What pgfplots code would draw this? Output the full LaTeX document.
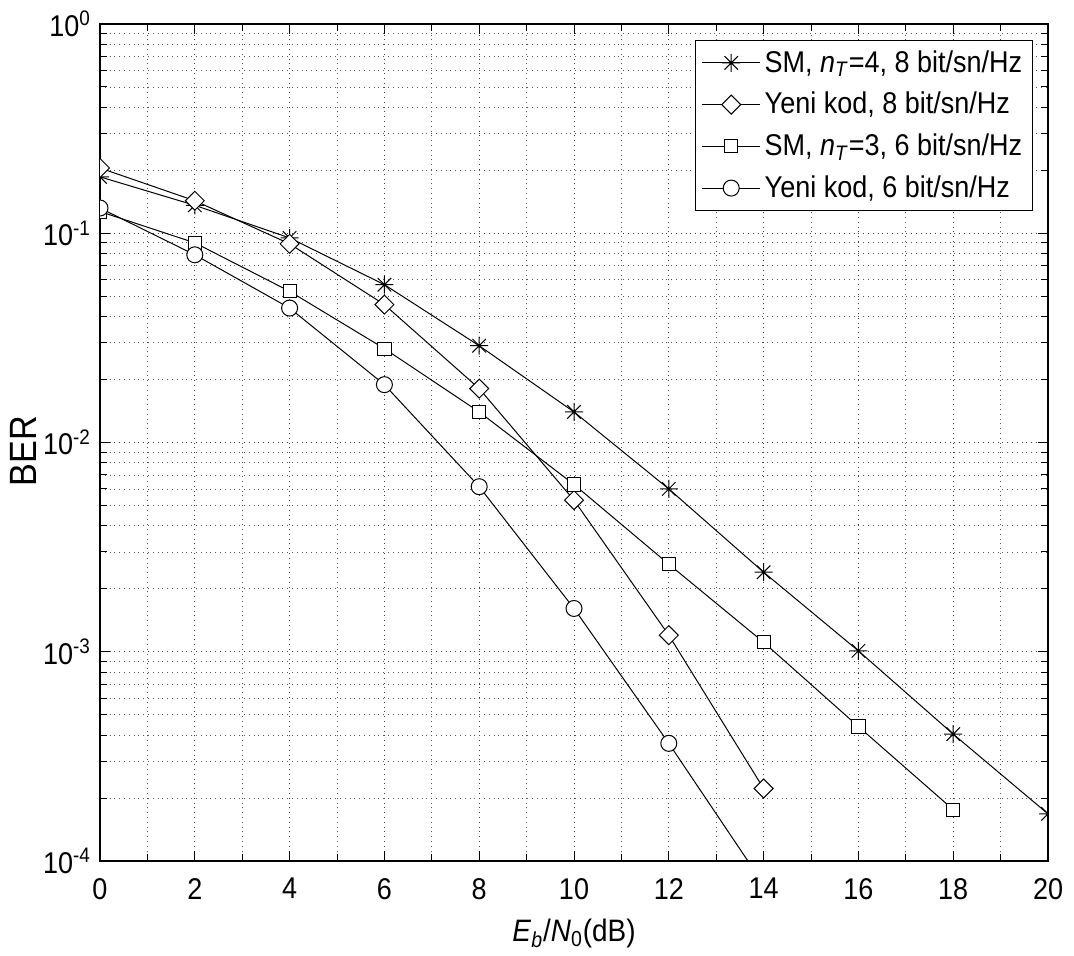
\documentclass[border=0pt]{standalone}
\usepackage{fontspec}
\setmainfont{Liberation Sans}[FakeStretch=0.9]
\usepackage{pgfplots}
\pgfplotsset{compat=1.18}
% MATLAB-like '*' marker: plus and cross together
\pgfdeclareplotmark{mstar}{%
  \pgfpathmoveto{\pgfqpoint{0pt}{\pgfplotmarksize}}\pgfpathlineto{\pgfqpoint{0pt}{-\pgfplotmarksize}}%
  \pgfpathmoveto{\pgfqpoint{\pgfplotmarksize}{0pt}}\pgfpathlineto{\pgfqpoint{-\pgfplotmarksize}{0pt}}%
  \pgfpathmoveto{\pgfqpoint{0.75\pgfplotmarksize}{0.75\pgfplotmarksize}}\pgfpathlineto{\pgfqpoint{-0.75\pgfplotmarksize}{-0.75\pgfplotmarksize}}%
  \pgfpathmoveto{\pgfqpoint{0.75\pgfplotmarksize}{-0.75\pgfplotmarksize}}\pgfpathlineto{\pgfqpoint{-0.75\pgfplotmarksize}{0.75\pgfplotmarksize}}%
  \pgfusepathqstroke}
\begin{document}
\begin{tikzpicture}
\begin{axis}[
  scale only axis, width=474pt, height=418.5pt,
  ymode=log, xmin=0, xmax=20, ymin=1e-4, ymax=1,
  xtick={0,2,...,20}, minor x tick num=1,
  ytick={1e-4,1e-3,1e-2,1e-1,1},
  yticklabels={10\textsuperscript{-4},10\textsuperscript{-3},10\textsuperscript{-2},10\textsuperscript{-1},10\textsuperscript{0}},
  /pgf/number format/assume math mode=true,
  tick label style={font=\fontsize{15}{18}\selectfont},
  xticklabel style={yshift=-5pt},
  yticklabel style={xshift=-1pt},
  tick align=inside, major tick length=5pt, minor tick length=3.5pt,
  every tick/.style={black, line width=0.5pt},
  axis line style={black, line width=0.6pt},
  grid=both,
  major grid style={dotted, black!75, line width=0.45pt},
  minor grid style={dotted, black!65, line width=0.4pt},
  xlabel={\textit{E}\textsubscript{\textit{b}}/\textit{N}\textsubscript{0}(dB)},
  ylabel={BER},
  xlabel style={yshift=-3pt, font=\fontsize{15.5}{18}\selectfont},
  ylabel style={at={(axis description cs:-0.0807,0.49)}, anchor=center, font=\fontsize{19}{22}\selectfont},
  clip marker paths=true,
  legend style={at={(0.984,0.981)}, anchor=north east, draw=black, line width=0.6pt,
    font=\fontsize{15}{18}\selectfont, row sep=4.5pt, inner xsep=3pt, inner ysep=3pt,
    cells={anchor=west}},
  legend image code/.code={\draw[mark repeat=2, mark phase=2] plot coordinates {(0pt,0pt) (14.5pt,0pt) (29pt,0pt)};},
  mystyle/.style={black, solid, line width=0.5pt, mark options={solid, draw=black, fill=white, line width=0.5pt}},
]
\addplot[mystyle, mark=mstar, mark size=4.5pt] coordinates {(0,0.186) (2,0.136) (4,0.095) (6,0.0568) (8,0.0290) (10,0.0140) (12,0.0060) (14,0.00240) (16,0.00101) (18,0.000404) (20,0.000168)};
\addlegendentry{SM, \textit{n}\textsubscript{\textit{T}}=4, 8 bit/sn/Hz}
\addplot[mystyle, mark=square*, mark size=3.35pt, mark options={solid, draw=black, fill=white, line width=0.5pt, rotate=45}] coordinates {(0,0.205) (2,0.143) (4,0.089) (6,0.0456) (8,0.0181) (10,0.0053) (12,0.0012) (14,0.000222)};
\addlegendentry{Yeni kod, 8 bit/sn/Hz}
\addplot[mystyle, mark=square*, mark size=3.3pt] coordinates {(0,0.127) (2,0.090) (4,0.0528) (6,0.0281) (8,0.0140) (10,0.0063) (12,0.00262) (14,0.00111) (16,0.000439) (18,0.000176)};
\addlegendentry{SM, \textit{n}\textsubscript{\textit{T}}=3, 6 bit/sn/Hz}
\addplot[mystyle, mark=*, mark size=4pt] coordinates {(0,0.132) (2,0.0789) (4,0.0439) (6,0.0189) (8,0.00615) (10,0.00161) (12,0.000365) (14,0.0000774)};
\addlegendentry{Yeni kod, 6 bit/sn/Hz}
\end{axis}
\path ([shift={(-50pt,-47.5pt)}]current axis.south west) rectangle ([shift={(13pt,12pt)}]current axis.north east);
\end{tikzpicture}
\end{document}
